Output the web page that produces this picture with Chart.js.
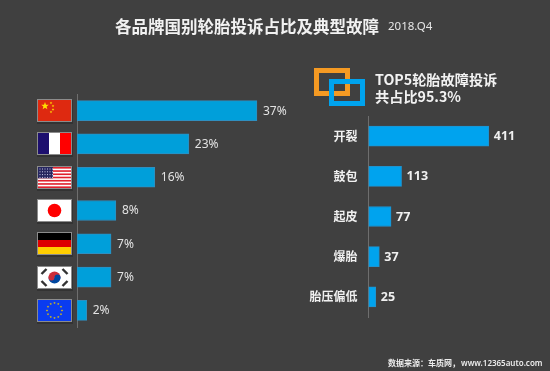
<!DOCTYPE html>
<html lang="zh"><head><meta charset="utf-8">
<script src="https://cdn.jsdelivr.net/npm/chart.js@4"></script>
<style>
html,body{margin:0;padding:0;background:#404040;}
#stage{position:relative;width:550px;height:371px;overflow:hidden;background:#404040;font-family:"Noto Sans CJK SC","Noto Sans",sans-serif;color:#f2f2f2;}
canvas{position:absolute;top:0;}
.t{position:absolute;white-space:nowrap;}
.box{position:absolute;box-sizing:border-box;border-style:solid;border-width:5px;}
</style></head><body>
<div id="stage">
<canvas id="left" style="left:0"></canvas>
<canvas id="right" style="left:290px"></canvas>
<div class="t" id="title" style="left:115px;top:14px;font-size:16.5px;line-height:24px;font-weight:700;"></div>
<div class="t" id="period" style="left:388px;top:16px;font-size:11.5px;line-height:20px;color:#e6e6e6;font-family:'Noto Sans',sans-serif;"></div>
<div class="box" style="left:314px;top:68px;width:36px;height:28px;border-color:#f59a23;"></div>
<div class="box" style="left:329px;top:79px;width:36px;height:27px;border-color:#00a3ee;"></div>
<div class="t" id="head" style="left:375px;top:71px;font-size:14.2px;line-height:17px;font-weight:700;white-space:pre;"></div>
<div class="t" style="left:388px;top:356px;font-size:8px;line-height:14px;font-weight:700;color:#ececec;"><span id="src"></span><span id="site" style="font-family:'Noto Sans',sans-serif;font-weight:600;margin-left:1px;"></span></div>
</div>
<script>
const titleText = "各品牌国别轮胎投诉占比及典型故障";
const periodText = "2018.Q4";
const headText = "TOP5轮胎故障投诉\n共占比95.3%";
const sourceText = "数据来源：车质网，";
const siteText = "www.12365auto.com";
const countries = ["中国","法国","美国","日本","德国","韩国","欧盟"];
const countryShares = [37,23,16,8,7,7,2];
const faults = ["开裂","鼓包","起皮","爆胎","胎压偏低"];
const faultCounts = [411,113,77,37,25];

document.getElementById('title').textContent = titleText;
document.getElementById('period').textContent = periodText;
document.getElementById('head').textContent = headText;
document.getElementById('src').textContent = sourceText;
document.getElementById('site').textContent = siteText;

function star(c,x,y,r,fill){
  c.fillStyle=fill;c.beginPath();
  for(let i=0;i<10;i++){const a=-Math.PI/2+i*Math.PI/5,q=i%2?r*0.42:r;
    c.lineTo(x+q*Math.cos(a),y+q*Math.sin(a));}
  c.closePath();c.fill();
}
const flags = {
  "中国"(c,x,y,w,h){c.fillStyle='#de2910';c.fillRect(x,y,w,h);
    star(c,x+7,y+6,4,'#ffde00');
    [[13,3],[15,6],[15,9.5],[13,12]].forEach(p=>star(c,x+p[0],y+p[1],1.4,'#ffde00'));},
  "法国"(c,x,y,w,h){c.fillStyle='#fff';c.fillRect(x,y,w,h);c.fillStyle='#1d0f6e';c.fillRect(x,y,w/3,h);c.fillStyle='#ff0000';c.fillRect(x+w*2/3,y,w/3,h);},
  "美国"(c,x,y,w,h){c.fillStyle='#fff';c.fillRect(x,y,w,h);c.fillStyle='#e0202c';
    for(let i=0;i<7;i++)c.fillRect(x,y+i*h/6.5,w,h/13);
    c.fillStyle='#26265f';c.fillRect(x,y,w*0.45,h*0.54);
    c.fillStyle='#c8c8e6';for(let r=0;r<4;r++)for(let k=0;k<6;k++)c.fillRect(x+1.5+k*2.5,y+1.5+r*2.8,1,1);},
  "日本"(c,x,y,w,h){c.fillStyle='#fff';c.fillRect(x,y,w,h);c.fillStyle='#f00';c.beginPath();c.arc(x+w/2,y+h/2,6.8,0,7);c.fill();},
  "德国"(c,x,y,w,h){c.fillStyle='#000';c.fillRect(x,y,w,h/3);c.fillStyle='#dd0000';c.fillRect(x,y+h/3,w,h/3);c.fillStyle='#ffce00';c.fillRect(x,y+h*2/3,w,h/3);},
  "韩国"(c,x,y,w,h){c.fillStyle='#fff';c.fillRect(x,y,w,h);const m=x+w/2,n=y+h/2;
    c.fillStyle='#cd2e3a';c.beginPath();c.arc(m,n,6,Math.PI,0);c.fill();
    c.fillStyle='#0047a0';c.beginPath();c.arc(m,n,6,0,Math.PI);c.fill();
    c.fillStyle='#cd2e3a';c.beginPath();c.arc(m-3,n,3,0,7);c.fill();
    c.fillStyle='#0047a0';c.beginPath();c.arc(m+3,n,3,0,7);c.fill();
    c.strokeStyle='#333';c.lineWidth=2.4;
    [[-10.5,-6,1],[10.5,-6,-1],[-10.5,6,-1],[10.5,6,1]].forEach(p=>{c.beginPath();c.moveTo(m+p[0]-2.5,n+p[1]+2.5*p[2]);c.lineTo(m+p[0]+2.5,n+p[1]-2.5*p[2]);c.stroke();});},
  "欧盟"(c,x,y,w,h){c.fillStyle='#0a3cf0';c.fillRect(x,y,w,h);
    for(let i=0;i<12;i++){const a=i*Math.PI/6;star(c,x+w/2+7.5*Math.cos(a),y+h/2+7.5*Math.sin(a),1.3,'#e8c800');}}
};

const flagPlugin = {id:'flagPlugin',afterDraw(ch){
  const c=ch.ctx,s=ch.scales.y,fw=33,fh=21,fx=38;
  ch.data.labels.forEach((lab,i)=>{
    const y=Math.round(s.getPixelForValue(i)-fh/2);
    c.save();
    c.fillStyle='#333';c.fillRect(fx-1,y,fw+3,fh+3);
    c.fillStyle='#8c8c8c';c.fillRect(fx-1,y-1,fw+2,fh+2);
    c.beginPath();c.rect(fx,y,fw,fh);c.clip();
    flags[lab](c,fx,y,fw,fh);
    c.restore();
  });
}};
const valueLabels = {id:'valueLabels',afterDatasetsDraw(ch,a,o){
  const c=ch.ctx,m=ch.getDatasetMeta(0);
  c.save();c.font=o.font;c.fillStyle=o.color;c.textBaseline='middle';c.textAlign='left';
  m.data.forEach((b,i)=>c.fillText(ch.data.datasets[0].data[i]+o.suffix,b.x+o.gap,b.y+0.5));
  c.restore();
}};
function build(id,w,labels,data,opt){
  const el=document.getElementById(id);el.width=w;el.height=371;
  el.style.width=w+'px';el.style.height='371px';
  return new Chart(el,{type:'bar',
    data:{labels,datasets:[{data,backgroundColor:opt.color,borderColor:opt.border,borderWidth:1,barThickness:20,borderSkipped:false}]},
    plugins:opt.plugins,
    options:{indexAxis:'y',responsive:false,animation:false,events:[],
      layout:{padding:{top:opt.top,bottom:opt.bottom,left:0,right:0}},
      plugins:{legend:{display:false},tooltip:{enabled:false},title:{display:false},
        valueLabels:{font:opt.font,color:opt.labelColor,suffix:opt.suffix,gap:opt.gap}},
      scales:{
        x:{display:false,min:0,max:opt.max},
        y:{afterFit(s){s.width=opt.axisX;},
           grid:{display:false,drawTicks:false},
           border:{display:true,color:'#6e6e6e',width:1},
           ticks:{display:opt.ticks,color:'#f0f0f0',padding:11,font:{family:'"Noto Sans CJK SC"',size:12,weight:'700'}}}
      }}});
}
build('left',290,countries,countryShares,{color:'#009fda',border:'#2f8fc0',plugins:[flagPlugin,valueLabels],
  top:94,bottom:44,max:43.8,axisX:77,ticks:false,font:'12px "Noto Sans","Noto Sans CJK SC",sans-serif',labelColor:'#e2e2e2',suffix:'%',gap:6});
build('right',260,faults,faultCounts,{color:'#00a3ee',border:'#1f93cf',plugins:[valueLabels],
  top:116,bottom:54,max:620,axisX:78.5,ticks:true,font:'700 12.5px "Noto Sans","Noto Sans CJK SC",sans-serif',labelColor:'#f0f0f0',suffix:'',gap:5});
</script>
</body></html>
